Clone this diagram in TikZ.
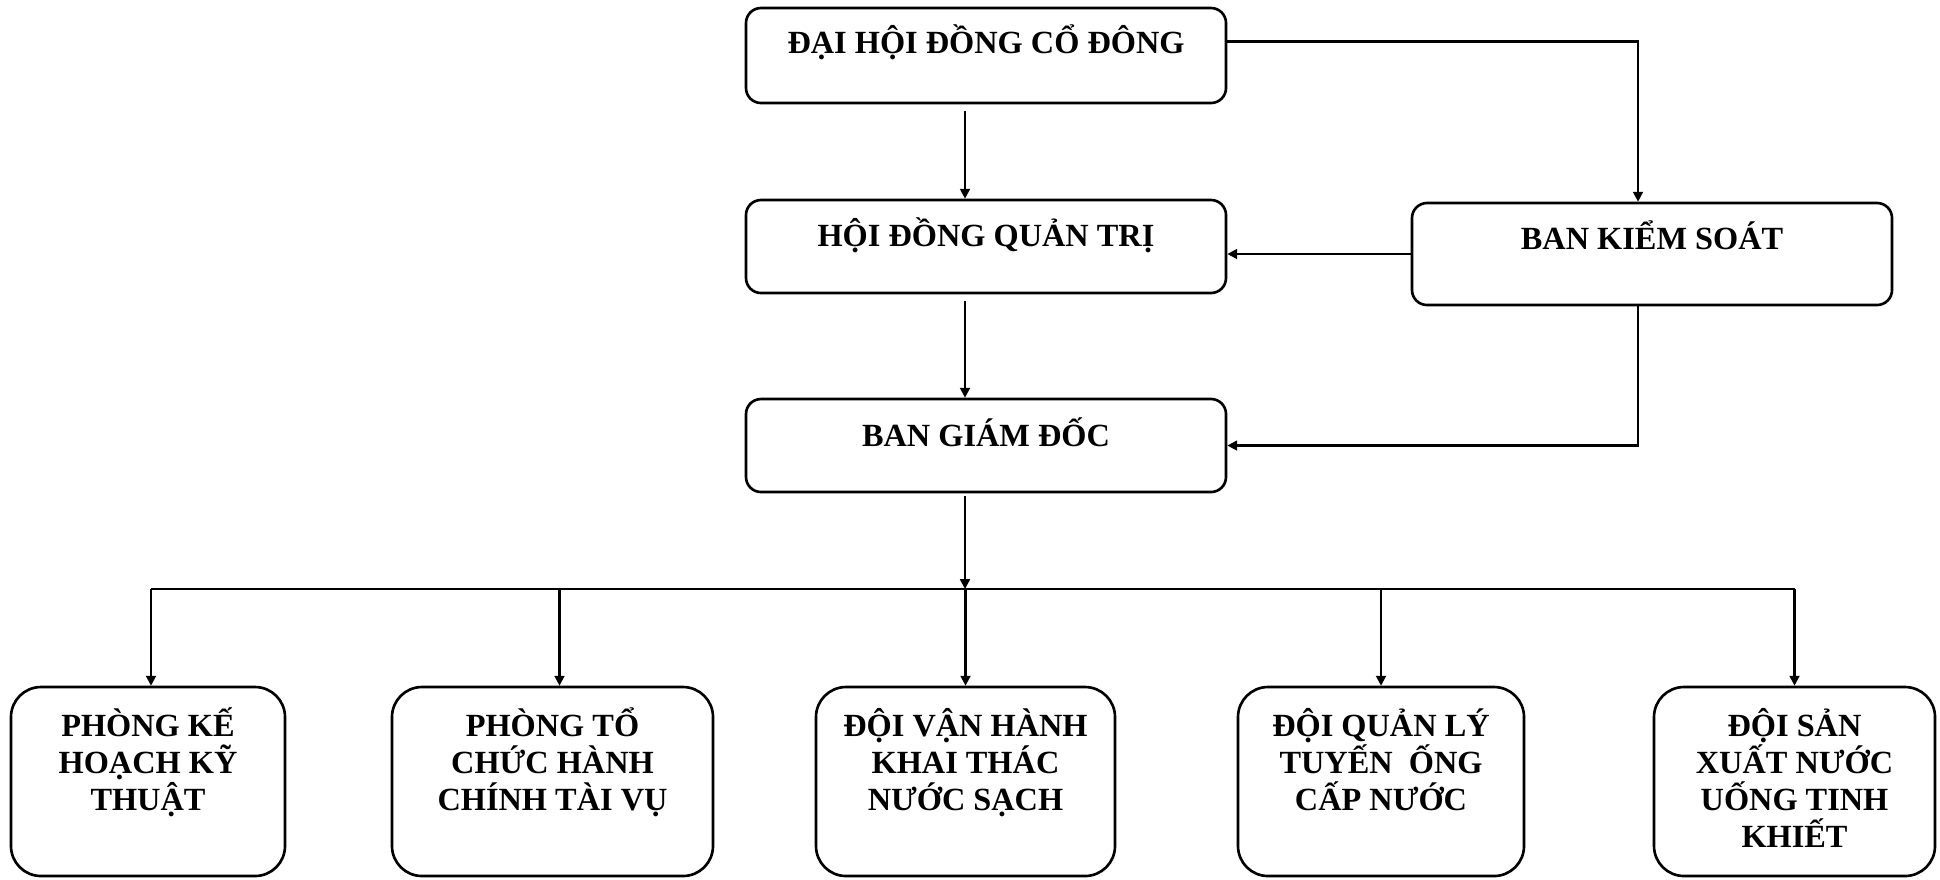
\documentclass[tikz,border=0pt]{standalone}
\usepackage{fontspec}
\setmainfont{Liberation Serif}
\usepackage{tikz}
\usetikzlibrary{arrows.meta,positioning}

\tikzset{
	box/.style={draw,line width=0.75pt,rounded corners=0.15cm,inner sep=0pt},
	dept/.style={box,rounded corners=0.3cm,minimum width=#1,minimum height=1.89cm},
	txt/.style={inner sep=0pt,align=center,font=\bfseries\fontsize{9.2}{10.5}\selectfont},
}
\newcommand{\firstln}{\rule{0pt}{11pt}}

\begin{document}
\begin{tikzpicture}[>={Triangle[length=2.8pt,width=2.8pt]},line width=0.6pt]
	\useasboundingbox (0,0) rectangle (19.4,-8.79);
	\fill[white] (0,0) rectangle (19.4,-8.79);
	% boxes
	\node[box,minimum width=4.8cm,minimum height=0.95cm] (dhdcd) at (9.86,-0.555) {};
	\node[box,minimum width=4.8cm,minimum height=0.93cm] (hdqt) at (9.86,-2.465) {};
	\node[box,minimum width=4.8cm,minimum height=0.93cm] (bgd) at (9.86,-4.455) {};
	\node[box,minimum width=4.8cm,minimum height=1.02cm] (bks) at (16.52,-2.54) {};
	\node[dept=2.74cm] (pkh) at (1.48,-7.815) {};
	\node[dept=3.21cm] (ptc) at (5.525,-7.815) {};
	\node[dept=2.99cm] (dvh) at (9.655,-7.815) {};
	\node[dept=2.86cm] (dql) at (13.81,-7.815) {};
	\node[dept=2.81cm] (dsx) at (17.945,-7.815) {};
	%
	\node[txt,anchor=base] (tdhdcd) at ([yshift=-0.47cm]dhdcd.north) {ĐẠI HỘI ĐỒNG CỔ ĐÔNG};
	\node[txt,anchor=base] (thdqt) at ([yshift=-0.48cm]hdqt.north) {HỘI ĐỒNG QUẢN TRỊ};
	\node[txt,anchor=base] (tbgd) at ([yshift=-0.49cm]bgd.north) {BAN GIÁM ĐỐC};
	\node[txt,anchor=base] (tbks) at ([yshift=-0.48cm]bks.north) {BAN KIỂM SOÁT};
	\node[txt,below=0.11cm of pkh.north] (tpkh) {\firstln PHÒNG KẾ\\HOẠCH KỸ\\THUẬT};
	\node[txt,below=0.11cm of ptc.north] (tptc) {\firstln PHÒNG TỔ\\CHỨC HÀNH\\CHÍNH TÀI VỤ};
	\node[txt,below=0.11cm of dvh.north] (tdvh) {\firstln ĐỘI VẬN HÀNH\\KHAI THÁC\\NƯỚC SẠCH};
	\node[txt,below=0.11cm of dql.north] (tdql) {\firstln ĐỘI QUẢN LÝ\\TUYẾN\ \ ỐNG\\CẤP NƯỚC};
	\node[txt,below=0.11cm of dsx.north] (tdsx) {\firstln ĐỘI SẢN\\XUẤT NƯỚC\\UỐNG TINH\\KHIẾT};
	%
	\coordinate (bus) at (9.65,-5.89);
	\draw[->,shorten <=0.07cm] ([xshift=-0.21cm]dhdcd.south) -- ([xshift=-0.21cm]hdqt.north);
	\draw[->,shorten <=0.07cm] ([xshift=-0.21cm]hdqt.south) -- ([xshift=-0.21cm]bgd.north);
	\draw[->] ([yshift=0.14cm]dhdcd.east) -| ([xshift=-0.14cm]bks.north);
	\draw[->] (bks.west) -- (bks.west -| hdqt.east);
	\draw[->] ([xshift=-0.14cm]bks.south) |- (bgd.east);
	\draw[->,shorten <=0.03cm] ([xshift=-0.21cm]bgd.south) -- ([xshift=-0.21cm]bgd.south |- bus);
	\draw ([xshift=0.03cm]pkh.north |- bus) -- (dsx.north |- bus);
	\draw[->] ([xshift=0.03cm]pkh.north |- bus) -- ([xshift=0.03cm]pkh.north);
	\draw[->] ([xshift=0.07cm]ptc.north |- bus) -- ([xshift=0.07cm]ptc.north);
	\foreach \d in {dvh,dql,dsx}
		\draw[->] (\d.north |- bus) -- (\d.north);
\end{tikzpicture}
\end{document}
